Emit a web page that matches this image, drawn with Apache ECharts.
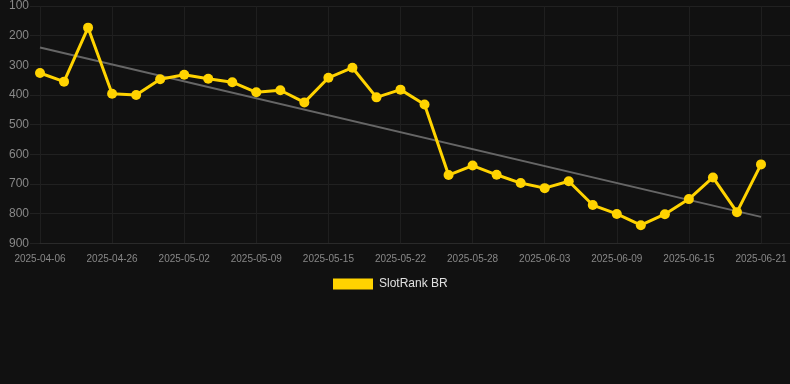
<!DOCTYPE html>
<html>
<head>
<meta charset="utf-8">
<script src="https://cdn.jsdelivr.net/npm/echarts@6/dist/echarts.min.js"></script>
<style>
html,body{margin:0;padding:0;background:#111111;}
#chart{width:790px;height:384px;}
</style>
</head>
<body>
<div id="chart"></div>
<script>
const categories = ['2025-04-06','2025-04-20','2025-04-23','2025-04-26','2025-04-28','2025-04-30','2025-05-02','2025-05-04','2025-05-06','2025-05-09','2025-05-11','2025-05-13','2025-05-15','2025-05-17','2025-05-20','2025-05-22','2025-05-24','2025-05-26','2025-05-28','2025-05-30','2025-06-01','2025-06-03','2025-06-05','2025-06-07','2025-06-09','2025-06-11','2025-06-13','2025-06-15','2025-06-17','2025-06-19','2025-06-21'];
const rankValues = [326,355,173,396,400,347,332,345,357,391,384,425,342,308,408,382,432,670,638,669,697,714,691,771,801,839,802,751,678,795,634];
const trendStart = 240;
const trendEnd = 811;
const seriesName = 'SlotRank BR';
const yTicks = [100, 900, 100]; // min, max, interval

const trendData = [[categories[0], trendStart], [categories[categories.length - 1], trendEnd]];

const chart = echarts.init(document.getElementById('chart'), null, {renderer: 'canvas'});
const gridTop = 6, gridBottom = 140.7;
chart.setOption({
  backgroundColor: '#111111',
  animation: false,
  textStyle: {fontFamily: 'Liberation Sans, Arial, sans-serif'},
  grid: [
    {left: 30, right: 0, top: gridTop, bottom: gridBottom, containLabel: false},
    {left: 40, right: 29, top: gridTop, bottom: gridBottom, containLabel: false}
  ],
  legend: {
    data: [seriesName],
    top: 273,
    left: 328,
    itemWidth: 40,
    itemHeight: 11,
    itemGap: 10,
    icon: 'rect',
    textStyle: {color: '#e0e0e0', fontSize: 12, padding: [0, 0, 0, 1]}
  },
  xAxis: [
    {gridIndex: 0, type: 'value', show: false, min: 0, max: 1},
    {
      gridIndex: 1, type: 'category', data: categories, boundaryGap: false,
      axisLine: {show: true, lineStyle: {color: '#2a2a2a'}},
      axisTick: {show: false},
      axisLabel: {interval: 2, color: '#888888', fontSize: 10, margin: 11},
      splitLine: {show: true, interval: 2, lineStyle: {color: '#1f1f1f', width: 1}}
    }
  ],
  yAxis: [
    {
      gridIndex: 0, type: 'value', inverse: true, min: yTicks[0], max: yTicks[1], interval: yTicks[2],
      axisLine: {show: false}, axisTick: {show: false},
      axisLabel: {margin: 1, color: '#888888', fontSize: 12},
      splitLine: {show: true, lineStyle: {color: '#212121', width: 1}}
    },
    {
      gridIndex: 1, type: 'value', inverse: true, min: yTicks[0], max: yTicks[1], interval: yTicks[2],
      show: false, splitLine: {show: false}
    }
  ],
  series: [
    {
      name: 'trend', type: 'line', xAxisIndex: 1, yAxisIndex: 1,
      data: trendData, symbol: 'none', silent: true,
      lineStyle: {color: '#666666', width: 2}, z: 1
    },
    {
      name: seriesName, type: 'line', xAxisIndex: 1, yAxisIndex: 1,
      data: rankValues, symbol: 'circle', symbolSize: 10,
      itemStyle: {color: '#FFD300'},
      lineStyle: {color: '#FFD300', width: 3}, z: 2
    }
  ]
});
</script>
</body>
</html>
